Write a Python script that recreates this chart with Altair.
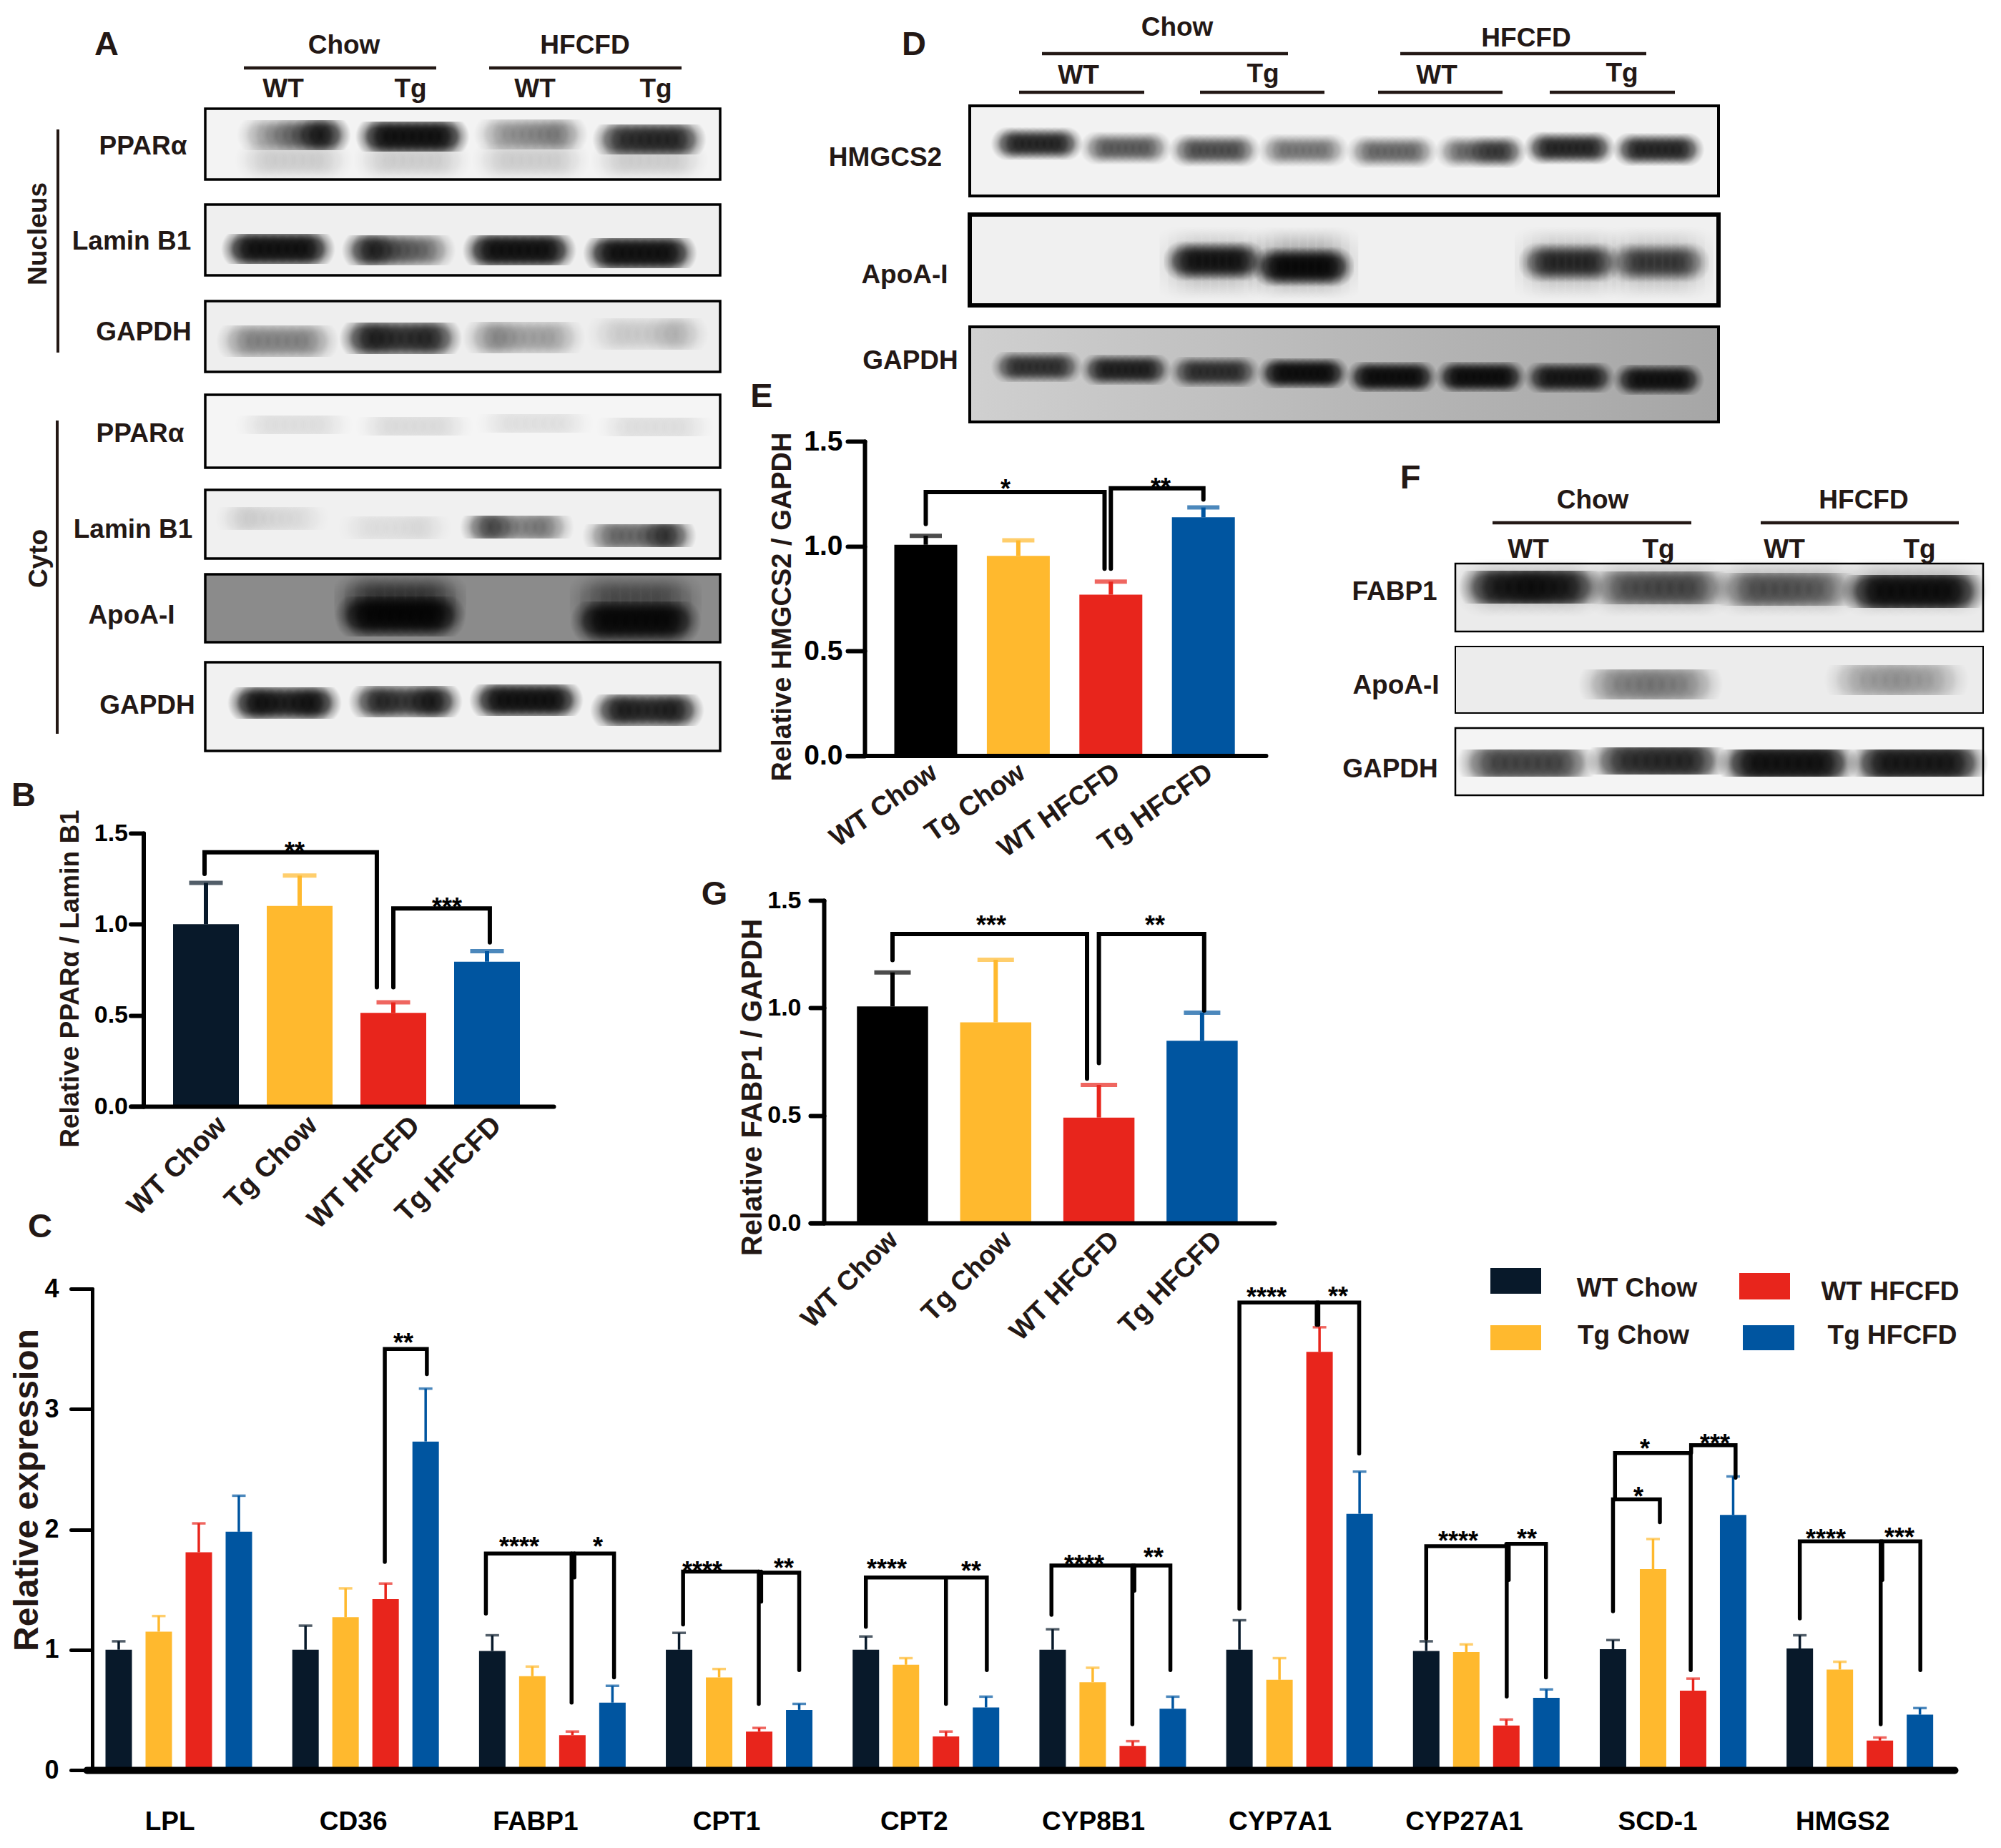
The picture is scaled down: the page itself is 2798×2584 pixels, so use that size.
import altair as alt
import pandas as pd

W, H = 2780, 2560
M = 8
FONT = "Liberation Sans"
INK = "#231815"
NAVY, YEL, RED, BLUE = "#08192a", "#ffb92e", "#e8251c", "#0055a0"
GROUPS = ["WT Chow", "Tg Chow", "WT HFCFD", "Tg HFCFD"]

# ---------- bar values ----------
B_MEAN = [1.0, 1.10, 0.513, 0.794]
B_HI = [1.227, 1.267, 0.571, 0.852]
E_MEAN = [1.006, 0.953, 0.768, 1.137]
E_HI = [1.049, 1.027, 0.83, 1.184]
G_MEAN = [1.007, 0.933, 0.49, 0.847]
G_HI = [1.165, 1.224, 0.642, 0.978]

# where each rotated group label is anchored, in bar positions
B_LABEL_AT = [0.168, 1.137, 2.23, 3.1]
E_LABEL_AT = [0.09, 1.04, 2.066, 3.07]
G_LABEL_AT = [0.01, 1.115, 2.155, 3.15]

GENES = ["LPL", "CD36", "FABP1", "CPT1", "CPT2", "CYP8B1", "CYP7A1", "CYP27A1", "SCD-1", "HMGS2"]
C_MEAN = [
    [1.0, 1.15, 1.81, 1.98], [1.0, 1.27, 1.42, 2.73], [0.99, 0.78, 0.29, 0.56],
    [1.0, 0.77, 0.32, 0.50], [1.0, 0.875, 0.28, 0.52], [1.0, 0.73, 0.20, 0.51],
    [1.0, 0.75, 3.475, 2.13], [0.99, 0.98, 0.37, 0.60], [1.005, 1.67, 0.66, 2.12],
    [1.01, 0.835, 0.245, 0.46],
]
C_HI = [
    [1.07, 1.28, 2.05, 2.28], [1.20, 1.51, 1.55, 3.17], [1.12, 0.86, 0.32, 0.70],
    [1.14, 0.84, 0.35, 0.55], [1.11, 0.93, 0.32, 0.61], [1.17, 0.85, 0.24, 0.61],
    [1.245, 0.93, 3.68, 2.48], [1.07, 1.045, 0.42, 0.67], [1.08, 1.92, 0.76, 2.44],
    [1.12, 0.90, 0.27, 0.515],
]
GENE_LABEL_AT = [1.28, 5.86, 10.41, 15.18, 19.86, 24.34, 29.0, 33.6, 38.43, 43.05]

# significance brackets, as (bar position, value) vertices
B_BR = [[(-0.015, 1.276), (-0.015, 1.395), (1.824, 1.395), (1.824, 0.654)],
        [(2.0, 0.654), (2.0, 1.087), (3.03, 1.087), (3.03, 0.90)]]
E_BR = [[(0, 1.105), (0, 1.258), (1.932, 1.258), (1.932, 0.892)],
        [(2.0, 0.892), (2.0, 1.276), (3.0, 1.276), (3.0, 1.222)]]
G_BR = [[(0, 1.222), (0, 1.344), (1.885, 1.344), (1.885, 0.671)],
        [(2.0, 0.743), (2.0, 1.344), (3.02, 1.344), (3.02, 0.988)]]
GENE_STEP = 4.664
C_BR = [
    (1, [(1.98, 1.73), (1.98, 3.50), (3.03, 3.50), (3.03, 3.29)]),
    (2, [(-0.16, 1.30), (-0.16, 1.80), (3.04, 1.80), (3.04, 0.77)]), (2, [(1.98, 1.80), (1.98, 0.56)]), (2, [(2.05, 1.80), (2.05, 1.60)]),
    (3, [(0.1, 1.21), (0.1, 1.65), (2.0, 1.65)]), (3, [(2.0, 1.64), (3.0, 1.64), (3.0, 0.83)]), (3, [(1.99, 1.65), (1.99, 0.55)]), (3, [(2.05, 1.65), (2.05, 1.40)]),
    (4, [(0, 1.19), (0, 1.60), (3.02, 1.60), (3.02, 0.83)]), (4, [(2.0, 1.60), (2.0, 0.55)]),
    (5, [(-0.03, 1.29), (-0.03, 1.70), (2.94, 1.70), (2.94, 0.83)]), (5, [(1.99, 1.70), (1.99, 0.38)]), (5, [(2.04, 1.70), (2.04, 1.49)]),
    (6, [(0, 1.34), (0, 3.886), (2.99, 3.886), (2.99, 2.63)]), (6, [(1.93, 3.886), (1.93, 3.70)]), (6, [(1.97, 3.886), (1.97, 3.70)]),
    (7, [(0, 1.09), (0, 1.86), (2.0, 1.86)]), (7, [(2.0, 1.88), (2.99, 1.88), (2.99, 0.77)]), (7, [(2.01, 1.86), (2.01, 0.61)]), (7, [(2.06, 1.86), (2.06, 1.58)]),
    (8, [(0, 1.32), (0, 2.25), (1.17, 2.25), (1.17, 2.06)]), (8, [(0.05, 2.25), (0.05, 2.635), (1.94, 2.635), (1.94, 0.83)]), (8, [(1.95, 2.635), (1.95, 2.70), (3.06, 2.70), (3.06, 2.43)]),
    (9, [(0, 1.26), (0, 1.90), (3.01, 1.90), (3.01, 0.83)]), (9, [(2.02, 1.90), (2.02, 0.38)]), (9, [(2.06, 1.90), (2.06, 1.58)]),
]

# ---------- blot band densities (lane by lane) ----------
BLOTS = [
    # smears and haze, drawn under the bands
    ([[.2], [.2], [.2], [.2]], [0, 0, 0, 0]),
    ([[0], [.55], [0], [.42]], [0, 0, 0, 0]),
    ([[0], [0], [.2], [.25], [0], [0], [.2], [.2]], [0, 0, 0, 0, 0, 0, 0, 0]),
    ([[.26], [.26], [.26], [.26]], [0, 0, 0, 0]),
    # bands: density per lane, vertical drift per lane
    ([[.4, .6, .95], [1, 1, 1], [.4, .45, .5], [.8, .85, .85]], [0, 2, -1, 6]),
    ([[1, 1, 1], [.9, .65, .55], [1, 1, 1], [1, 1, 1]], [0, 2, 2, 6]),
    ([[.45, .45, .45], [.9, .8, .85], [.45, .35, .35], [.2, .2, .3]], [5, 1, 0, -5]),
    ([[.14, .14, .14], [.15, .15, .15], [.13, .13, .13], [.14, .14, .14]], [0, 2, -2, 3]),
    ([[.2, .16, .14], [.12, .13, .15], [.7, .45, .5], [.55, .55, .8]], [-12, 1, 0, 12]),
    ([[0, 0, 0], [1, 1, 1], [0, 0, 0], [1, 1, 1]], [0, -3, 0, 4]),
    ([[1, .9, 1], [.85, .75, .95], [1, 1, 1], [.9, .85, .9]], [0, -2, -4, 10]),
    ([[.85, .85], [.6, .6], [.65, .65], [.5, .5], [.55, .55], [.55, .75], [.85, .85], [.85, .85]], [-8, -2, 1, 1, 3, 3, -2, 0]),
    ([[0, 0], [0, 0], [.9, .9], [1, 1], [0, 0], [0, 0], [.75, .75], [.65, .65]], [0, 0, -3, 5, 0, 0, -1, -1]),
    ([[.75, .75], [.85, .85], [.75, .75], [1, 1], [1, 1], [1, 1], [.9, .9], [.95, .95]], [-9, -5, -2, 0, 5, 5, 6, 9]),
    ([[.9, 1, .9], [.55, .6, .6], [.55, .55, .5], [1, 1, 1]], [-2, -1, 1, 4]),
    ([[0, 0, 0], [.45, .5, .45], [0, 0, 0], [.35, .4, .35]], [0, 3, 0, -3]),
    ([[.7, .7, .7], [.8, .85, .85], [1, 1, 1], [.95, .95, .95]], [0, -3, 0, 0]),
]
# layout of each blot: first lane px, last lane px, centre y px, lane width, blob height
BLOT_LAYOUT = [
    (411, 908, 224, 135, 60), (395, 889, 840, 150, 84), (1450, 2319, 368, 125, 105), (2141, 2676, 822, 175, 84),
    (411, 908, 189, 130, 42), (389, 895, 348, 130, 42), (388, 905, 472, 140, 44),
    (411, 916, 594, 135, 26), (381, 894, 737, 130, 32), (395, 889, 865, 150, 56), (398, 905, 983, 130, 44),
    (1450, 2319, 209, 105, 46), (1450, 2319, 368, 115, 58), (1450, 2319, 522, 105, 42),
    (2141, 2676, 823, 165, 46), (2136, 2652, 954, 165, 42), (2135, 2682, 1067, 160, 38),
]
# x0, y0, x1, y1, fill, stroke width
FRAMES = [
    (287, 152, 1007, 251, "#f3f3f3", 3.5), (287, 286, 1007, 385, "#efefef", 3.5), (287, 421, 1007, 520, "#eeeeee", 3.5),
    (287, 552, 1007, 654, "#f5f5f5", 3.5), (287, 685, 1007, 781, "#f0f0f0", 3.5), (287, 803, 1007, 898, "#8b8b8b", 3.5), (287, 926, 1007, 1050, "#f1f1f1", 3.5),
    (1356, 148, 2403, 274, "#f2f2f2", 4), (1356, 300, 2403, 427, "#f0f0f0", 6), (1356, 457, 2403, 590, "#b4b4b4", 4),
    (2035, 788, 2773, 883, "#ebebeb", 2.5), (2035, 904, 2773, 997, "#ececec", 2), (2035, 1018, 2773, 1112, "#f4f4f4", 2.5),
]
GRADIENT_FRAME = (1356, 457, 2403, 590)
GRADIENT_FILL = {"gradient": "linear", "x1": 0, "y1": 0, "x2": 1, "y2": 0, "stops": [
    {"offset": 0, "color": "#d0d0d0"}, {"offset": 0.5, "color": "#b8b8b8"}, {"offset": 1, "color": "#a6a6a6"}]}
# x0, y0, x1, y1, width
RULES = [
    (341, 95, 610, 95, 4.5), (684, 95, 953, 95, 4.5), (81, 181, 81, 493, 4), (80, 588, 80, 1026, 4),
    (1457, 75, 1801, 75, 4.5), (1958, 75, 2302, 75, 4.5), (1425, 129, 1600, 129, 4.5), (1678, 129, 1852, 129, 4.5),
    (1927, 129, 2101, 129, 4.5), (2167, 129, 2342, 129, 4.5), (2087, 731, 2365, 731, 4.5), (2462, 731, 2739, 731, 4.5),
]
LABELS = [
    ("A", 149, 61, 47, 0), ("B", 33, 1111, 47, 0), ("C", 56, 1714, 47, 0), ("D", 1278, 61, 47, 0),
    ("E", 1065, 553, 47, 0), ("F", 1972, 667, 47, 0), ("G", 999, 1249, 47, 0),
    ("Chow", 481, 62, 37, 0), ("HFCFD", 818, 62, 37, 0), ("WT", 396, 123, 37, 0), ("Tg", 574, 123, 37, 0), ("WT", 748, 123, 37, 0), ("Tg", 917, 123, 37, 0),
    ("PPARα", 200, 203, 37, 0), ("Lamin B1", 184, 336, 37, 0), ("GAPDH", 201, 463, 37, 0),
    ("PPARα", 196, 605, 37, 0), ("Lamin B1", 186, 739, 37, 0), ("ApoA-I", 184, 859, 37, 0), ("GAPDH", 206, 985, 37, 0),
    ("Nucleus", 52, 327, 37, 270), ("Cyto", 53, 781, 37, 270),
    ("Chow", 1646, 37, 37, 0), ("HFCFD", 2134, 52, 37, 0), ("WT", 1508, 104, 37, 0), ("Tg", 1766, 102, 37, 0), ("WT", 2009, 104, 37, 0), ("Tg", 2268, 101, 37, 0),
    ("HMGCS2", 1238, 219, 37, 0), ("ApoA-I", 1265, 383, 37, 0), ("GAPDH", 1273, 503, 37, 0),
    ("Chow", 2227, 698, 37, 0), ("HFCFD", 2606, 698, 37, 0), ("WT", 2137, 767, 37, 0), ("Tg", 2319, 767, 37, 0), ("WT", 2495, 767, 37, 0), ("Tg", 2684, 767, 37, 0),
    ("FABP1", 1950, 826, 37, 0), ("ApoA-I", 1952, 957, 37, 0), ("GAPDH", 1944, 1074, 37, 0),
    ("WT Chow", 2289, 1800, 37, 0), ("Tg Chow", 2284, 1866, 37, 0), ("WT HFCFD", 2643, 1805, 37, 0), ("Tg HFCFD", 2646, 1866, 37, 0),
]
STARS = [
    ("**", 412, 1182), ("***", 625, 1260), ("*", 1406, 675), ("**", 1623, 673), ("***", 1386, 1285), ("**", 1615, 1285),
    ("**", 564, 1869), ("****", 726, 2154), ("*", 836, 2154), ("****", 982, 2188), ("**", 1096, 2184),
    ("****", 1240, 2185), ("**", 1358, 2188), ("****", 1516, 2179), ("**", 1613, 2169),
    ("****", 1771, 1805), ("**", 1871, 1804), ("****", 2039, 2146), ("**", 2135, 2143),
    ("*", 2300, 2017), ("***", 2398, 2010), ("*", 2291, 2084), ("****", 2553, 2143), ("***", 2656, 2141),
]
SWATCHES = [(2084, 1773, 2155, 1809, NAVY), (2084, 1853, 2155, 1888, YEL), (2432, 1780, 2503, 1817, RED), (2437, 1853, 2509, 1888, BLUE)]


def px(col):
    return alt.X(f"{col}:Q", scale=None, axis=None)


def py(col):
    return alt.Y(f"{col}:Q", scale=None, axis=None)


def shift(rows, xs=(0, 2), ys=(1, 3)):
    out = []
    for r in rows:
        r = list(r)
        for i in list(xs) + list(ys):
            r[i] = r[i] - M
        out.append(r)
    return out


BAND_FILL = {"gradient": "radial", "stops": [
    {"offset": 0, "color": "rgba(0,0,0,1)"},
    {"offset": 0.4, "color": "rgba(0,0,0,0.95)"},
    {"offset": 0.72, "color": "rgba(0,0,0,0.4)"},
    {"offset": 1, "color": "rgba(0,0,0,0)"},
]}
BLOBS_PER_LANE = 9

frames_df = pd.DataFrame(shift(FRAMES), columns=["x", "y", "x2", "y2", "fill", "sw"])
frame_fill = alt.Chart(frames_df).mark_rect().encode(
    x=px("x"), x2="x2:Q", y=py("y"), y2="y2:Q", fill=alt.Fill("fill:N", scale=None))
grad_df = pd.DataFrame(shift([GRADIENT_FRAME]), columns=["x", "y", "x2", "y2"])
frame_grad = alt.Chart(grad_df).mark_rect(fill=GRADIENT_FILL).encode(
    x=px("x"), x2="x2:Q", y=py("y"), y2="y2:Q")

band_layers = []
for (dens, drift), (x0, x1, cy, lw, bh) in zip(BLOTS, BLOT_LAYOUT):
    n = len(dens)
    step = (x1 - x0) / (n - 1)
    wide = lw * 1.1
    bw = wide * 0.42
    spread = wide - 0.72 * bw
    rows = []
    for i, lane in enumerate(dens):
        k = len(lane)
        for b in range(BLOBS_PER_LANE):
            f = b / (BLOBS_PER_LANE - 1)
            d = lane[min(int(f * k), k - 1)]
            if d > 0:
                rows.append({"lane": i + (f - 0.5) * spread / step, "drift": drift[i], "density": d})
    band_layers.append(
        alt.Chart(pd.DataFrame(rows)).mark_rect(width=bw, height=bh, fill=BAND_FILL).encode(
            x=alt.X("lane:Q", scale=alt.Scale(domain=[0, n - 1], range=[x0 - M, x1 - M], padding=0, nice=False, zero=False), axis=None),
            y=alt.Y("drift:Q", scale=alt.Scale(domain=[-100, 100], range=[cy - 100 - M, cy + 100 - M], padding=0, nice=False, zero=False), axis=None),
            opacity=alt.Opacity("density:Q", scale=alt.Scale(type="pow", exponent=1.5, domain=[0, 1], range=[0, 0.6]), legend=None),
        )
    )

frame_line = alt.Chart(frames_df).mark_rect(fillOpacity=0, stroke="black").encode(
    x=px("x"), x2="x2:Q", y=py("y"), y2="y2:Q", strokeWidth=alt.StrokeWidth("sw:Q", scale=None))

rules_df = pd.DataFrame(shift(RULES), columns=["x", "y", "x2", "y2", "sw"])
rules = alt.Chart(rules_df).mark_rule(color=INK).encode(
    x=px("x"), x2="x2:Q", y=py("y"), y2="y2:Q", strokeWidth=alt.StrokeWidth("sw:Q", scale=None))

lab_df = pd.DataFrame(LABELS, columns=["t", "x", "y", "s", "a"])
lab_df["x"] -= M
lab_df["y"] -= M
labels = alt.Chart(lab_df).mark_text(font=FONT, fontWeight="bold", color=INK, baseline="middle", align="center", dy=2).encode(
    x=px("x"), y=py("y"), text="t:N", size=alt.Size("s:Q", scale=None), angle=alt.Angle("a:Q", scale=None))

star_df = pd.DataFrame(STARS, columns=["t", "x", "y"])
star_df["x"] -= M
star_df["y"] -= M
stars = alt.Chart(star_df).mark_text(font=FONT, fontWeight="bold", color="black", fontSize=36, baseline="middle", align="center", dy=10).encode(
    x=px("x"), y=py("y"), text="t:N")

sw_df = pd.DataFrame(shift(SWATCHES), columns=["x", "y", "x2", "y2", "fill"])
swatches = alt.Chart(sw_df).mark_rect().encode(
    x=px("x"), x2="x2:Q", y=py("y"), y2="y2:Q", fill=alt.Fill("fill:N", scale=None))


def bar_panel(means, his, palette, ax, y0, ytop, first, step, x_start, x_end, bar_w, cap_w, brackets,
              title, title_x, title_y, title_size, tick_len, label_pad, lab_size, angle, xpad, label_at, xlab_size):
    df = pd.DataFrame({"i": range(4), "g": GROUPS, "v": means, "hi": his})
    xs = alt.Scale(domain=[(x_start - first) / step, (x_end - first) / step], range=[x_start - M, x_end - M], nice=False, zero=False, padding=0)
    ys = alt.Scale(domain=[0, 1.5], range=[y0 - M, ytop - M], nice=False, padding=0)
    colour = alt.Color("g:N", scale=alt.Scale(domain=GROUPS, range=palette), legend=None)
    x_axis = alt.Axis(orient="bottom", offset=y0 - M - H, values=label_at, ticks=False, grid=False, title=None,
                      labelExpr="['WT Chow','Tg Chow','WT HFCFD','Tg HFCFD'][round(datum.value)]", labelAngle=angle,
                      labelAlign="right", labelBaseline="middle", labelPadding=xpad, labelFont=FONT,
                      labelFontWeight="bold", labelFontSize=xlab_size, labelColor=INK, labelLimit=500, domainColor="black",
                      domainWidth=6, domainCap="round", zindex=1, labelOverlap=False, labelBound=False, labelFlush=False)
    y_axis = alt.Axis(orient="left", offset=-(ax - M), values=[0, 0.5, 1, 1.5], format=".1f", grid=False, tickSize=tick_len,
                      tickWidth=6, tickColor="black", tickCap="round", domainColor="black", domainWidth=6, domainCap="round",
                      labelPadding=label_pad, labelFont=FONT, labelFontWeight="bold", labelFontSize=lab_size, labelColor="black",
                      title=title, titleFont=FONT, titleFontWeight="bold", titleFontSize=title_size, titleColor=INK,
                      titleX=title_x - ax, titleY=title_y - M, titleBaseline="middle", titleAlign="center", zindex=1, titleLimit=1000,
                      labelOverlap=False, labelBound=False, labelFlush=False)
    X = alt.X("i:Q", scale=xs, axis=x_axis)
    Y = alt.Y("v:Q", scale=ys, axis=y_axis, stack=None)
    bars = alt.Chart(df).mark_bar(width=bar_w, orient="vertical").encode(x=X, y=Y, color=colour)
    stems = alt.Chart(df).mark_rule(strokeWidth=6).encode(x=alt.X("i:Q"), y=alt.Y("v:Q"), y2="hi:Q", color=colour)
    caps = alt.Chart(df).mark_tick(orient="horizontal", size=cap_w, thickness=6).encode(x=alt.X("i:Q"), y=alt.Y("hi:Q"), color=colour)
    br = [{"id": n, "o": k, "x": p[0], "y": p[1]} for n, b in enumerate(brackets) for k, p in enumerate(b)]
    lines = alt.Chart(pd.DataFrame(br)).mark_line(color="black", strokeWidth=6, strokeCap="round", strokeJoin="miter").encode(
        x=alt.X("x:Q"), y=alt.Y("y:Q"), detail="id:N", order="o:Q")
    return alt.layer(bars, stems, caps, lines)


panel_b = bar_panel(B_MEAN, B_HI, [NAVY, YEL, RED, BLUE], 200.5, 1547, 1165, 288, 131, 183, 774, 92, 47, B_BR,
                    "Relative PPARα / Lamin B1", 98, 1368, 37, 18, 4, 34, 315, 20, B_LABEL_AT, 39)
panel_e = bar_panel(E_MEAN, E_HI, ["#000000", YEL, RED, BLUE], 1209, 1056.5, 617, 1294.5, 129.4, 1185, 1770, 88, 45, E_BR,
                    "Relative HMGCS2 / GAPDH", 1094, 848, 38, 24, 7, 39, 325, 20, E_LABEL_AT, 38)
panel_g = bar_panel(G_MEAN, G_HI, ["#000000", YEL, RED, BLUE], 1152, 1710, 1259, 1248, 144.3, 1133, 1782, 99.5, 51, G_BR,
                    "Relative FABP1 / GAPDH", 1052.5, 1520, 40, 19, 13, 34, 315, 18, G_LABEL_AT, 38)

# panel C
c_first, c_slot = 166, 56
c_xs = alt.Scale(domain=[(121 - c_first) / c_slot, (2733 - c_first) / c_slot], range=[121 - M, 2733 - M], nice=False, zero=False, padding=0)
c_ys = alt.Scale(domain=[0, 4], range=[2475 - M, 1802 - M], nice=False, padding=0)
c_rows = []
for g, (ms, hs) in enumerate(zip(C_MEAN, C_HI)):
    for b in range(4):
        c_rows.append({"pos": g * GENE_STEP + b, "g": GROUPS[b], "v": ms[b], "hi": hs[b]})
c_df = pd.DataFrame(c_rows)
c_colour = alt.Color("g:N", scale=alt.Scale(domain=GROUPS, range=[NAVY, YEL, RED, BLUE]), legend=None)
c_x_axis = alt.Axis(orient="bottom", offset=2475 - M - H, labels=False, ticks=False, grid=False, title=None, domainColor="black",
                    domainWidth=10, domainCap="round", zindex=1)
c_y_axis = alt.Axis(orient="left", offset=-(129 - M), values=[0, 1, 2, 3, 4], format="d", grid=False, tickSize=30, tickWidth=5,
                    tickColor="black", tickCap="round", domainColor="black", domainWidth=5, domainCap="round", labelPadding=17,
                    labelFont=FONT, labelFontWeight="bold", labelFontSize=36, labelColor="black", title="Relative expression",
                    titleFont=FONT, titleFontWeight="bold", titleFontSize=48, titleColor=INK, titleX=38 - 129, titleY=2083 - M,
                    titleBaseline="middle", titleAlign="center", zindex=1, titleLimit=1000, labelOverlap=False, labelBound=False, labelFlush=False)
c_bars = alt.Chart(c_df).mark_bar(width=37, orient="vertical").encode(
    x=alt.X("pos:Q", scale=c_xs, axis=c_x_axis), y=alt.Y("v:Q", scale=c_ys, axis=c_y_axis, stack=None), color=c_colour)
c_stems = alt.Chart(c_df).mark_rule(strokeWidth=3.5).encode(x=alt.X("pos:Q"), y=alt.Y("v:Q"), y2="hi:Q", color=c_colour)
c_caps = alt.Chart(c_df).mark_tick(orient="horizontal", size=19, thickness=3.5).encode(x=alt.X("pos:Q"), y=alt.Y("hi:Q"), color=c_colour)
c_br = []
for n, (g, pts) in enumerate(C_BR):
    for k, (s, v) in enumerate(pts):
        c_br.append({"id": n, "o": k, "x": g * GENE_STEP + s, "y": v})
c_lines = alt.Chart(pd.DataFrame(c_br)).mark_line(color="black", strokeWidth=5.5, strokeCap="round", strokeJoin="miter").encode(
    x=alt.X("x:Q"), y=alt.Y("y:Q"), detail="id:N", order="o:Q")
c_gene = alt.Chart(pd.DataFrame({"gene": GENES, "at": GENE_LABEL_AT})).mark_text(
    font=FONT, fontWeight="bold", fontSize=37, color="black", baseline="middle", align="center", dy=2).encode(
    x=alt.X("at:Q"), y=alt.value(2546 - M), text="gene:N")
panel_c = alt.layer(c_bars, c_stems, c_caps, c_lines, c_gene)

chart = alt.layer(
    frame_fill, frame_grad, *band_layers, frame_line, rules, swatches, panel_b, panel_e, panel_g, panel_c, labels, stars
).resolve_scale(
    x="independent", y="independent", color="independent", opacity="independent"
).resolve_axis(x="independent", y="independent").properties(
    width=W, height=H, padding=0, autosize=alt.AutoSizeParams(type="none"), background="white"
).configure_view(stroke=None)

chart.save("out.html", embed_options={"renderer": "svg", "actions": False})
